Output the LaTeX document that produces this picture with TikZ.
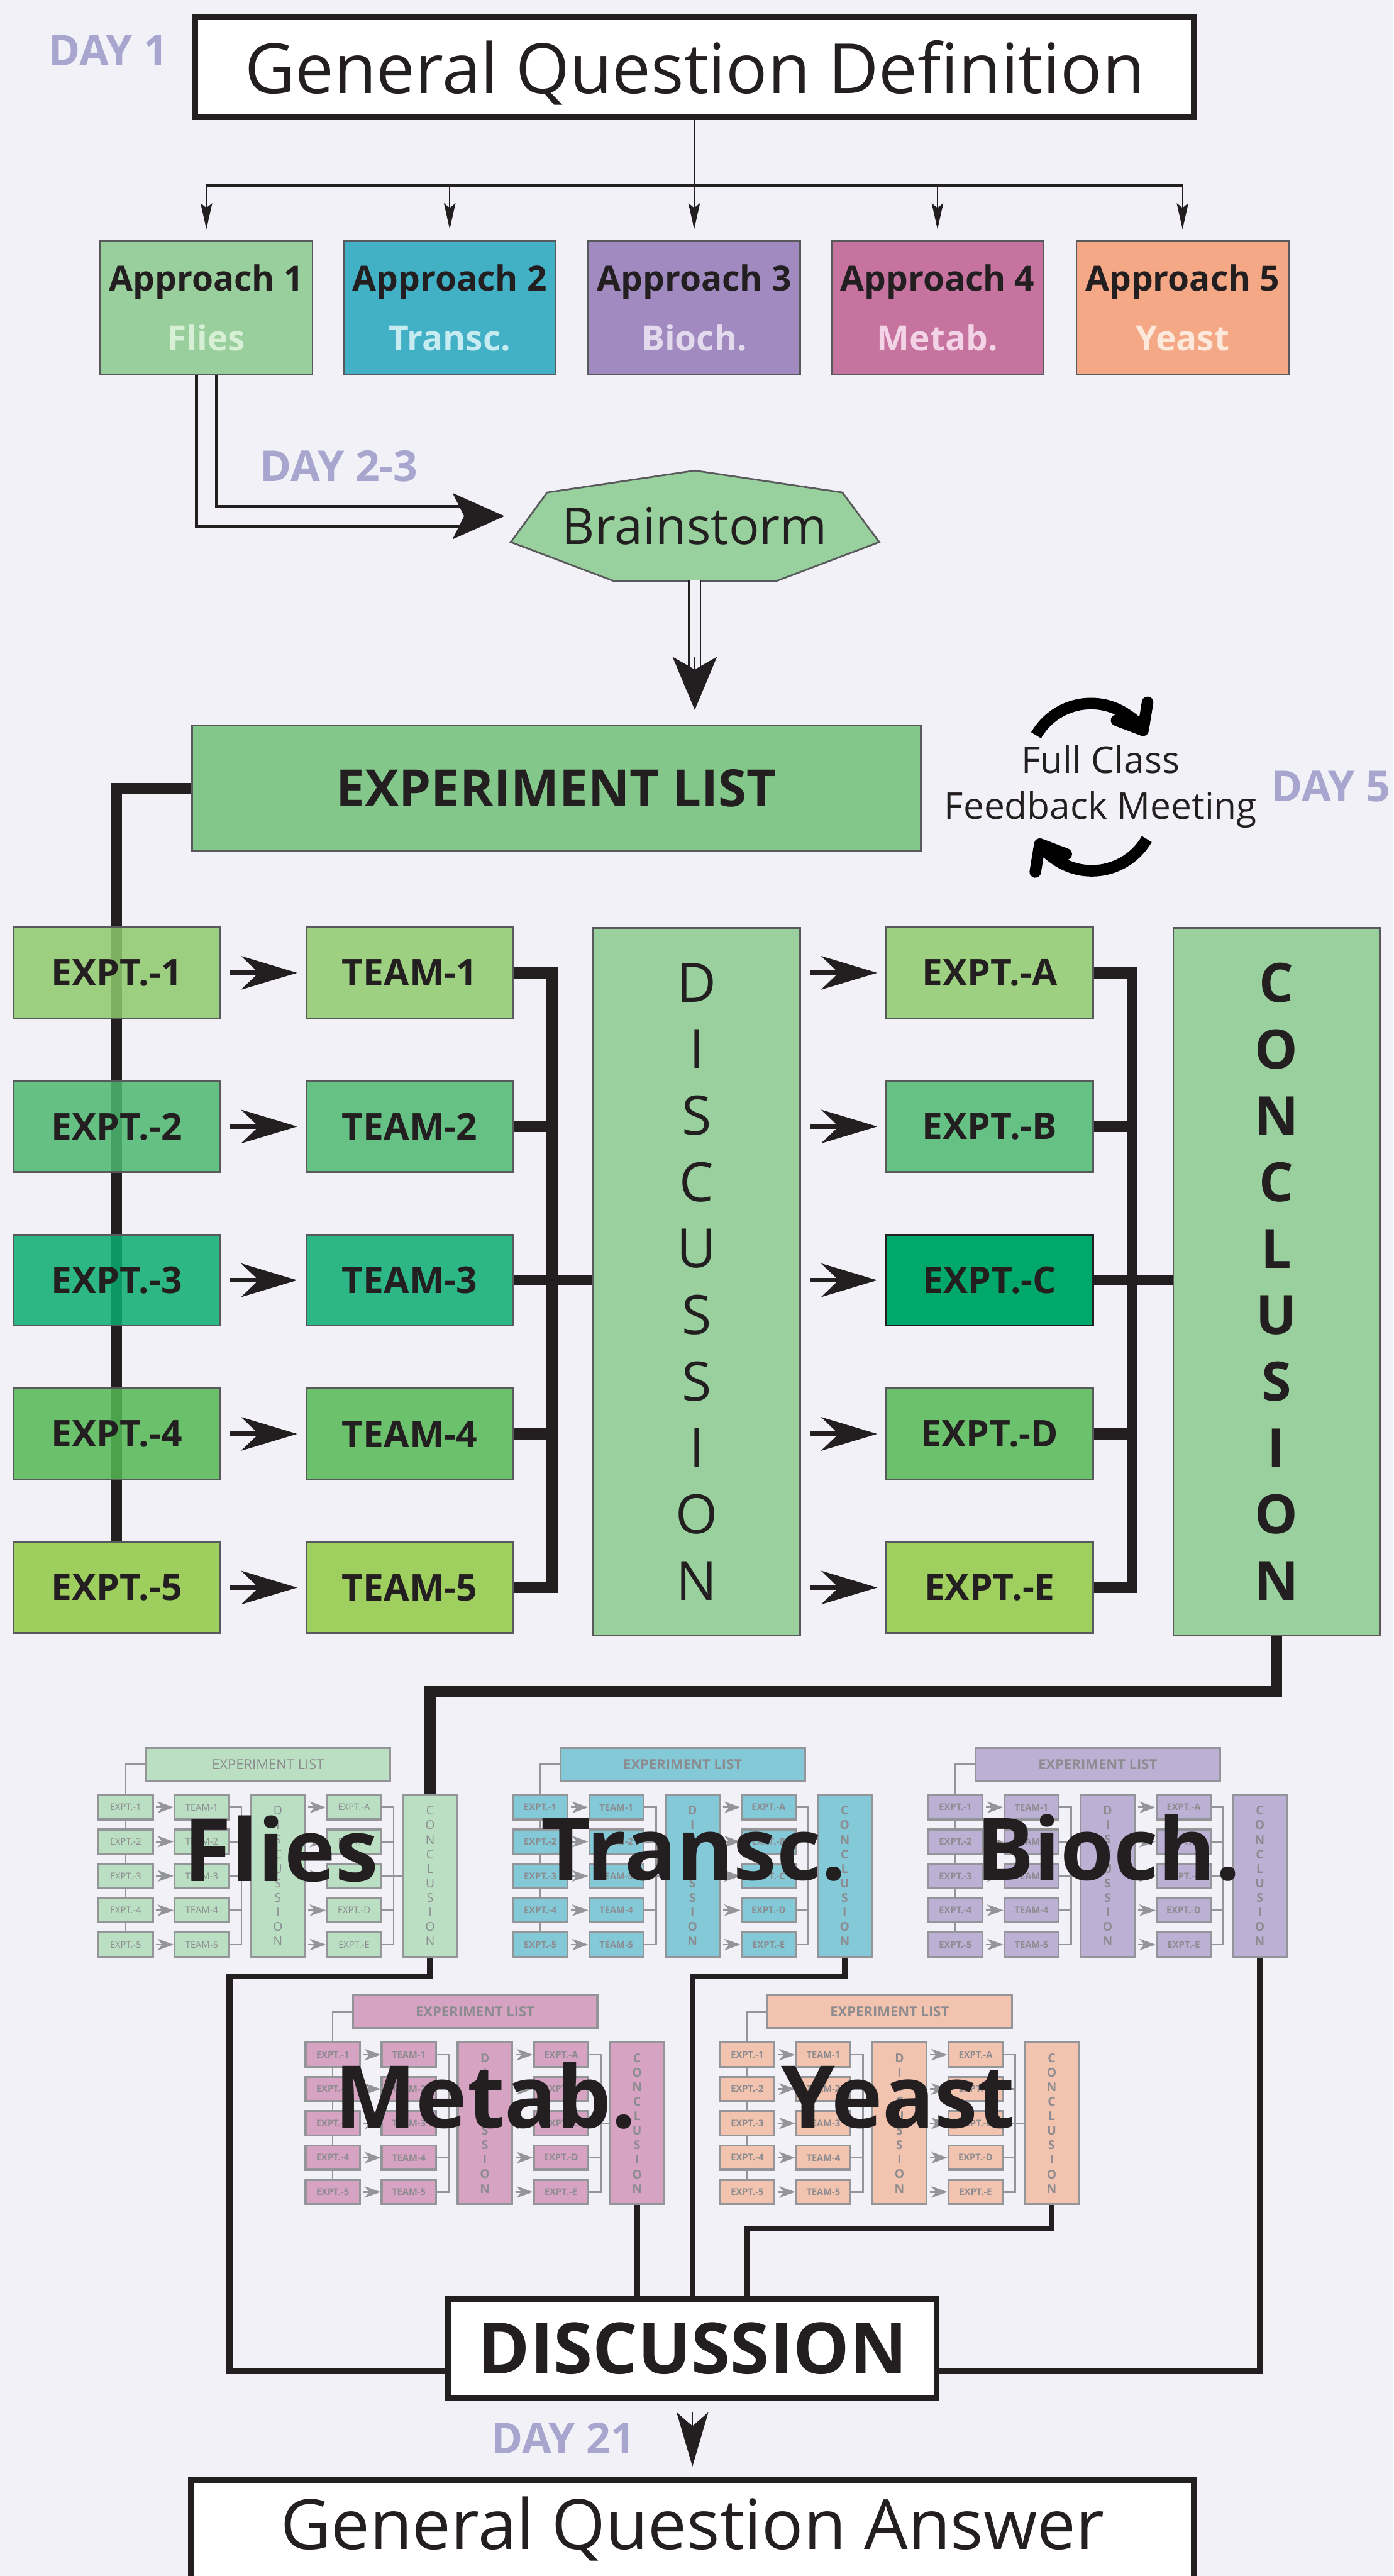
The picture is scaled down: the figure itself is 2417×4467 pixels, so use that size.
\documentclass[tikz,border=0pt]{standalone}
\usepackage{fontspec}
\setmainfont{Open Sans}
\usetikzlibrary{arrows.meta}

\definecolor{paper}{HTML}{F1F1F7}
\definecolor{ink}{HTML}{231F20}
\definecolor{edge}{HTML}{58595B}
\definecolor{dayc}{HTML}{A8A6CF}
\definecolor{appa}{HTML}{99CF9C}
\definecolor{appat}{HTML}{D7F0D5}
\definecolor{appb}{HTML}{42B0C5}
\definecolor{appbt}{HTML}{C6EBF0}
\definecolor{appc}{HTML}{A08ABF}
\definecolor{appct}{HTML}{E3DAEE}
\definecolor{appd}{HTML}{C673A0}
\definecolor{appdt}{HTML}{F2D4E6}
\definecolor{appe}{HTML}{F4A886}
\definecolor{appet}{HTML}{FDE9DB}
\definecolor{storm}{HTML}{98D09E}
\definecolor{listc}{HTML}{83C88A}
\definecolor{column}{HTML}{99D09E}
\definecolor{rowa}{HTML}{9ED082}
\definecolor{rowb}{HTML}{66C185}
\definecolor{rowc}{HTML}{2DB786}
\definecolor{rowd}{HTML}{6CC16C}
\definecolor{rowe}{HTML}{9FCF5F}
\definecolor{deep}{HTML}{00A86B}
% first column is see-through, so these are pre-mixed
\definecolor{lcola}{HTML}{8FCA6D}
\definecolor{lcolb}{HTML}{4DB871}
\definecolor{lcolc}{HTML}{0AAD72}
\definecolor{lcold}{HTML}{54B853}
\definecolor{lcole}{HTML}{90C944}
\definecolor{minigray}{HTML}{939598}
\definecolor{minitext}{HTML}{8C8B8F}
\definecolor{fliesm}{HTML}{BADFC2}
\definecolor{transm}{HTML}{84C9D7}
\definecolor{biom}{HTML}{BDB0D5}
\definecolor{metm}{HTML}{D6A3C3}
\definecolor{yeastm}{HTML}{F2C3AF}

\tikzset{
  heading/.style={draw=ink, line width=10pt, fill=white, inner sep=0pt, text=ink, text depth=0pt},
  day/.style={text=dayc, inner sep=0pt, font=\fontsize{74}{74}\selectfont\bfseries},
  approach/.style={draw=edge, line width=3pt, inner sep=0pt, minimum width=368pt, minimum height=233pt,
    align=center, text=ink, font=\fontsize{60}{104}\selectfont\bfseries},
  cell/.style={draw=edge, line width=3pt, inner sep=0pt, minimum width=359pt, minimum height=158pt,
    text=ink, font=\fontsize{64}{64}\selectfont\bfseries},
  leftcell/.style={cell, fill opacity=0.85, text opacity=1},
  pillar/.style={draw=edge, line width=3pt, fill=column, inner sep=0pt, minimum width=359pt,
    minimum height=1227pt, align=center, text=ink},
  link/.style={draw=ink, line width=19pt},
  wire/.style={draw=ink, line width=10pt},
  hair/.style={draw=ink, line width=2.5pt},
  push/.style={draw=ink, line width=8pt, shorten <=16pt, shorten >=14pt,
    -{Stealth[length=97pt, width=58pt, inset=30pt]}},
  drop/.style={hair, shorten >=18pt, -{Stealth[length=45pt, width=20pt, inset=8pt]}},
  twin/.style={draw=ink, line width=5pt, double=paper, double distance=29pt},
  twinsmall/.style={draw=ink, line width=3pt, double=paper, double distance=17pt},
  bigtip/.style={draw=ink, line width=1pt, -{Stealth[length=90pt, width=80pt, inset=20pt]}},
  cycle arrow/.style={draw=black, line width=20pt, -{Straight Barb[round, length=38pt, width=62pt]}},
  bigword/.style={text=ink, inner sep=0pt, anchor=base, font=\fontsize{150}{150}\selectfont\bfseries},
  minicell/.style={draw=minigray, line width=3.5pt, inner sep=0pt, minimum width=94pt,
    minimum height=42pt, text=minitext},
  minipillar/.style={minicell, minimum height=280pt, align=center},
  minilink/.style={draw=minigray, line width=3pt},
  minipush/.style={minilink, shorten <=4pt, -{Stealth[length=28pt, width=20pt, inset=8pt]}},
}

% small copy of the experiment chart: name, left, top, fill, weight
\newcommand{\minichart}[5]{%
  \node[minicell, fill=#4, minimum width=424pt, minimum height=57pt,
        font=\fontsize{24}{24}\selectfont#5] (#1list) at ({#2+294},{-#3+53.5}) {EXPERIMENT LIST};
  \draw[minilink] (#1list.west) -| ({#2+47},{-#3-238});
  \foreach \i/\l in {1/A,2/B,3/C,4/D,5/E} {
    \node[minicell, fill=#4, font=\fontsize{16}{16}\selectfont#5] (#1e\i) at ({#2+47},{-#3-21-59.5*(\i-1)}) {EXPT.-\i};
    \node[minicell, fill=#4, font=\fontsize{16}{16}\selectfont#5] (#1t\i) at ({#2+179},{-#3-21-59.5*(\i-1)}) {TEAM-\i};
    \node[minicell, fill=#4, font=\fontsize{16}{16}\selectfont#5] (#1r\l) at ({#2+443},{-#3-21-59.5*(\i-1)}) {EXPT.-\l};
    \draw[minipush] (#1e\i) -- (#1t\i);
  }
  \node[minipillar, fill=#4, font=\fontsize{21}{25.2}\selectfont#5] (#1disc) at ({#2+311},{-#3-140}) {D\\I\\S\\C\\U\\S\\S\\I\\O\\N};
  \node[minipillar, fill=#4, font=\fontsize{21}{25.2}\selectfont#5] (#1con) at ({#2+575},{-#3-140}) {C\\O\\N\\C\\L\\U\\S\\I\\O\\N};
  \foreach \l in {A,B,C,D,E}
    \draw[minipush] (#1disc.east |- #1r\l) -- (#1r\l);
  \draw[minilink] (#1t1.east) -- ++(20,0) |- (#1t5.east);
  \draw[minilink] (#1t2.east) -- ++(20,0);
  \draw[minilink] (#1t4.east) -- ++(20,0);
  \draw[minilink] (#1t3.east) -- (#1t3.east -| #1disc.west);
  \draw[minilink] (#1rA.east) -- ++(20,0) |- (#1rE.east);
  \draw[minilink] (#1rB.east) -- ++(20,0);
  \draw[minilink] (#1rD.east) -- ++(20,0);
  \draw[minilink] (#1rC.east) -- (#1rC.east -| #1con.west);
}

\begin{document}
\begin{tikzpicture}[x=1pt,y=1pt]
  % page
  \fill[paper] (0,0) rectangle (2417,-4467);
  \useasboundingbox (0,0) rectangle (2417,-4467);

  % Question and the five approaches
  \node[heading, minimum width=1732pt, minimum height=173pt, font=\fontsize{120}{120}\selectfont]
    (gqd) at (1205,-116.5) {General Question Definition};
  \node[day] (day1) at (188,-87) {DAY 1};
  \coordinate (split) at (1205,-322);
  \foreach \i/\x/\c/\s/\n in {1/358/appa/appat/Flies,2/780/appb/appbt/Transc.,3/1204/appc/appct/Bioch.,
                            4/1626/appd/appdt/Metab.,5/2051/appe/appet/Yeast}
    \node[approach, fill=\c] (app\i) at (\x,-533.5) {Approach \i\\\textcolor{\s}{\n}};
  \draw[hair] (gqd.south) -- (split);
  \draw[draw=ink, line width=6pt] (app1.north |- split) -- (app5.north |- split);
  \foreach \i in {1,...,5}
    \draw[drop] (app\i.north |- split) -- (app\i.north);

  % Brainstorm
  \fill[storm, draw=edge, line width=3pt] (1205,-816) -- (1461,-854) -- (1525,-940) -- (1348,-1007)
    -- (1063,-1007) -- (886,-940) -- (949,-854) -- cycle;
  \node[text=ink, inner sep=0pt, text depth=0pt, font=\fontsize{88}{88}\selectfont] (brain) at (1205,-912) {Brainstorm};
  \node[day] (day23) at (588,-808) {DAY 2-3};
  \coordinate (bsback) at (785,-895);
  \coordinate (bsin) at (875,-895);
  \coordinate (bsbot) at (1205,-1007);
  \coordinate (dropback) at (1205,-1139);
  \draw[twin, shorten >=-15pt] (app1.south) |- (bsback);
  \draw[bigtip] (bsback) -- (bsin);

  % Experiment list
  \node[cell, fill=listc, minimum width=1264pt, minimum height=218pt, font=\fontsize{89}{89}\selectfont\bfseries]
    (explist) at (965,-1367) {EXPERIMENT LIST};
  \draw[twinsmall, shorten >=-21pt] (bsbot) -- (dropback);
  \draw[bigtip, -{Stealth[length=92pt, width=77pt, inset=22pt]}, shorten >=25.5pt]
    (dropback) -- (explist.north -| dropback);

  % Feedback meeting
  \node[text=ink, align=center, inner sep=0pt, font=\fontsize{64}{80}\selectfont] (feedback) at (1909,-1364)
    {Full Class\\Feedback Meeting};
  \draw[cycle arrow] (1797,-1275) arc[start angle=150, end angle=30, radius=110];
  \draw[cycle arrow] (1989,-1455) arc[start angle=330, end angle=210, radius=110];
  \node[day] (day5) at (2308,-1364) {DAY 5};

  % Experiments, teams, discussion, conclusion
  \coordinate (lowend) at (202.5,-2673);
  \draw[link] (explist.west) -| (lowend);
  \foreach \i/\c in {1/lcola,2/lcolb,3/lcolc,4/lcold,5/lcole}
    \node[leftcell, fill=\c] (ex\i) at (202.5,{-1687-266.5*(\i-1)}) {EXPT.-\i};
  \foreach \i/\c in {1/rowa,2/rowb,3/rowc,4/rowd,5/rowe} {
    \node[cell, fill=\c] (team\i) at (710.5,{-1687-266.5*(\i-1)}) {TEAM-\i};
    \draw[push] (ex\i) -- (team\i);
  }
  \node[pillar, font=\fontsize{94}{115.2}\selectfont] (disc) at (1208.5,-2222.5) {D\\I\\S\\C\\U\\S\\S\\I\\O\\N};
  \foreach \i/\l/\c/\e in {1/A/rowa/edge,2/B/rowb/edge,3/C/deep/ink,4/D/rowd/edge,5/E/rowe/edge} {
    \node[cell, fill=\c, draw=\e] (ex\l) at (1716.5,{-1687-266.5*(\i-1)}) {EXPT.-\l};
    \draw[push] (disc.east |- ex\l) -- (ex\l);
  }
  \node[pillar, minimum width=358pt, font=\fontsize{94}{115.2}\selectfont\bfseries] (concl) at (2214,-2222.5)
    {C\\O\\N\\C\\L\\U\\S\\I\\O\\N};
  \draw[link] (team1.east) -- ++(66,0) |- (team5.east);
  \draw[link] (team2.east) -- ++(66,0);
  \draw[link] (team4.east) -- ++(66,0);
  \draw[link] (team3.east) -- (team3.east -| disc.west);
  \draw[link] (exA.east) -- ++(66,0) |- (exE.east);
  \draw[link] (exB.east) -- ++(66,0);
  \draw[link] (exD.east) -- ++(66,0);
  \draw[link] (exC.east) -- (exC.east -| concl.west);

  % The five group charts
  \minichart{fl}{171}{3113}{fliesm}{}
  \minichart{tr}{890}{3113}{transm}{\bfseries}
  \minichart{bi}{1610}{3113}{biom}{\bfseries}
  \minichart{me}{530}{3542}{metm}{\bfseries}
  \minichart{ye}{1249}{3542}{yeastm}{\bfseries}
  \draw[link] (concl.south) -- ++(0,-96) -| (flcon.north);
  \node[bigword] (flword) at (488,-3262) {Flies};
  \node[bigword] (trword) at (1203,-3260) {Transc.};
  \node[bigword] (biword) at (1922,-3260) {Bioch.};
  \node[bigword] (meword) at (842,-3690) {Metab.};
  \node[bigword] (yeword) at (1558,-3690) {Yeast};

  % Final discussion
  \node[heading, minimum width=847pt, minimum height=171pt, font=\fontsize{123}{123}\selectfont\bfseries]
    (disc2) at (1201,-4072) {DISCUSSION};
  \coordinate (leftrail) at (398,-3427);
  \draw[wire] (flcon.south) |- (leftrail) |- ([yshift=-40pt]disc2.west);
  \draw[wire] (trcon.south) |- (disc2.north |- leftrail) -- (disc2.north);
  \draw[wire] (mecon.south) -- (mecon.south |- disc2.north);
  \draw[wire] (yecon.south) -- ++(0,-41) -| ([xshift=94pt]disc2.north);
  \draw[wire] (bicon.south) |- ([yshift=-40pt]disc2.east);

  % Answer
  \node[heading, anchor=north, minimum width=1740pt, text height=120pt, text depth=200pt,
    font=\fontsize{120}{120}\selectfont] (answer) at (1201,-4296) {General Question Answer};
  \draw[draw=ink, line width=1pt, shorten <=20pt, shorten >=19pt,
    -{Stealth[length=94pt, width=55pt, inset=24pt]}] (disc2.south) -- (answer.north);
  \node[day] (day21) at (977,-4228) {DAY 21};
\end{tikzpicture}
\end{document}
